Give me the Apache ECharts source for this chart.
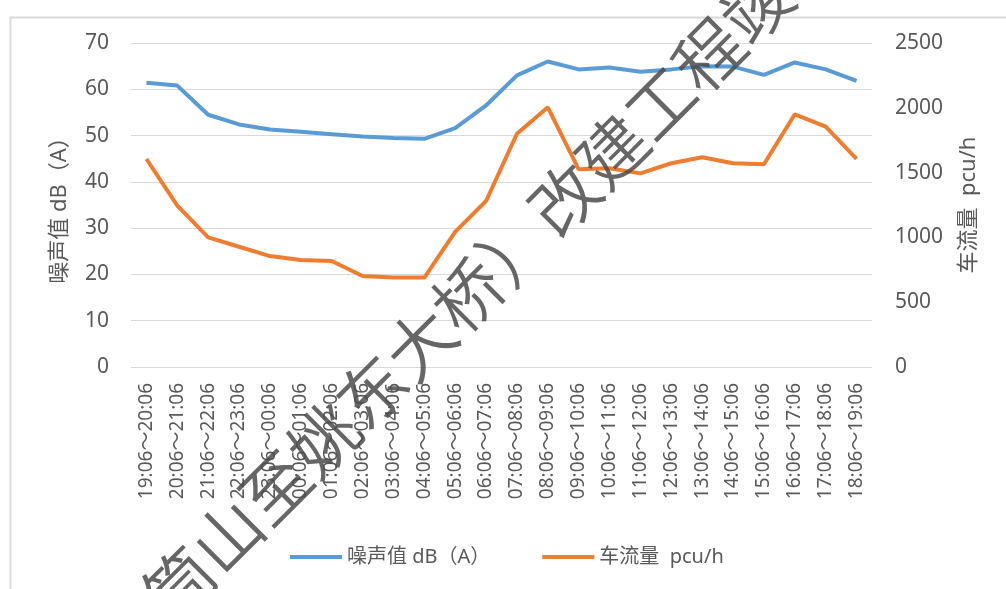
<!DOCTYPE html>
<html>
<head>
<meta charset="utf-8">
<script src="https://cdn.jsdelivr.net/npm/echarts@6/dist/echarts.min.js"></script>
<style>
html, body { margin: 0; padding: 0; background: #fff; }
#chart { width: 1006px; height: 589px; }
</style>
</head>
<body>
<div id="chart"></div>
<script>
var hours = [
  "19:06～20:06", "20:06～21:06", "21:06～22:06", "22:06～23:06",
  "23:06～00:06", "00:06～01:06", "01:06～02:06", "02:06～03:06",
  "03:06～04:06", "04:06～05:06", "05:06～06:06", "06:06～07:06",
  "07:06～08:06", "08:06～09:06", "09:06～10:06", "10:06～11:06",
  "11:06～12:06", "12:06～13:06", "13:06～14:06", "14:06～15:06",
  "15:06～16:06", "16:06～17:06", "17:06～18:06", "18:06～19:06"
];

// 噪声值 dB(A)
var noise = [
  61.4, 60.8, 54.5, 52.4, 51.3, 50.8, 50.3, 49.8, 49.5, 49.3, 51.6, 56.5,
  63.0, 66.0, 64.3, 64.7, 63.8, 64.3, 65.0, 64.9, 63.1, 65.8, 64.3, 61.8
];

// 车流量 pcu/h
var traffic = [
  1605, 1245, 1000, 928, 856, 826, 818, 702, 690, 690, 1042, 1281,
  1800, 2004, 1525, 1533, 1494, 1572, 1618, 1572, 1564, 1950, 1854, 1606
];

var leftTicks = { min: 0, max: 70, step: 10 };
var rightTicks = { min: 0, max: 2500, step: 500 };

var textColor = "#595959";
var gridColor = "#d9d9d9";
var font = "'Noto Sans', 'Noto Sans CJK SC', sans-serif";

var chart = echarts.init(document.getElementById("chart"));

var option = {
  animation: false,
  backgroundColor: "#fff",
  color: ["#5b9bd5", "#ed7d31"],
  grid: {
    left: 131,
    right: 134,
    top: 43,
    bottom: 222,
    containLabel: false
  },
  legend: {
    bottom: 17,
    left: 285,
    icon: "rect",
    itemWidth: 52,
    itemHeight: 4,
    itemGap: 52,
    textStyle: { color: textColor, fontSize: 20, fontFamily: font },
    data: ["噪声值 dB（A）", "车流量  pcu/h"]
  },
  xAxis: {
    type: "category",
    data: hours,
    boundaryGap: true,
    axisLine: { show: false },
    axisTick: { show: false },
    axisLabel: {
      rotate: 90,
      interval: 0,
      margin: 16,
      color: textColor,
      fontSize: 19,
      fontFamily: font
    }
  },
  yAxis: [
    {
      type: "value",
      min: leftTicks.min,
      max: leftTicks.max,
      interval: leftTicks.step,
      name: "噪声值 dB（A）",
      nameLocation: "middle",
      nameGap: 60,
      nameRotate: 90,
      nameTextStyle: { color: textColor, fontSize: 22, fontFamily: font },
      axisLine: { show: false },
      axisTick: { show: false },
      axisLabel: { color: textColor, fontSize: 21, margin: 22, fontFamily: font },
      splitLine: { lineStyle: { color: gridColor, width: 1 } }
    },
    {
      type: "value",
      min: rightTicks.min,
      max: rightTicks.max,
      interval: rightTicks.step,
      name: "车流量  pcu/h",
      nameLocation: "middle",
      nameGap: 86,
      nameRotate: 90,
      nameTextStyle: { color: textColor, fontSize: 22, fontFamily: font },
      axisLine: { show: false },
      axisTick: { show: false },
      axisLabel: {
        color: textColor,
        fontSize: 21,
        margin: 23,
        fontFamily: font,
        formatter: function (v) { return String(v); }
      },
      splitLine: { show: false }
    }
  ],
  series: [
    {
      name: "噪声值 dB（A）",
      type: "line",
      yAxisIndex: 0,
      data: noise,
      symbol: "none",
      lineStyle: { width: 4 }
    },
    {
      name: "车流量  pcu/h",
      type: "line",
      yAxisIndex: 1,
      data: traffic,
      symbol: "none",
      lineStyle: { width: 4 }
    }
  ],
  graphic: [
    {
      type: "rect",
      left: 8,
      top: 15,
      shape: { width: 1010, height: 600 },
      style: { fill: "none", stroke: "#d9d9d9", lineWidth: 2 },
      silent: true,
      z: -10
    },
    {
      type: "text",
      x: 468,
      y: 295,
      rotation: Math.PI / 4,
      silent: true,
      z: 100,
      style: {
        text: "筒山至姚东大桥）改建工程竣",
        x: 0,
        y: 0,
        align: "center",
        verticalAlign: "middle",
        fontSize: 68,
        fontWeight: 350,
        fontFamily: "'Noto Sans CJK SC', sans-serif",
        fill: "rgba(75,75,75,0.85)"
      }
    }
  ]
};

chart.setOption(option);
</script>
</body>
</html>
